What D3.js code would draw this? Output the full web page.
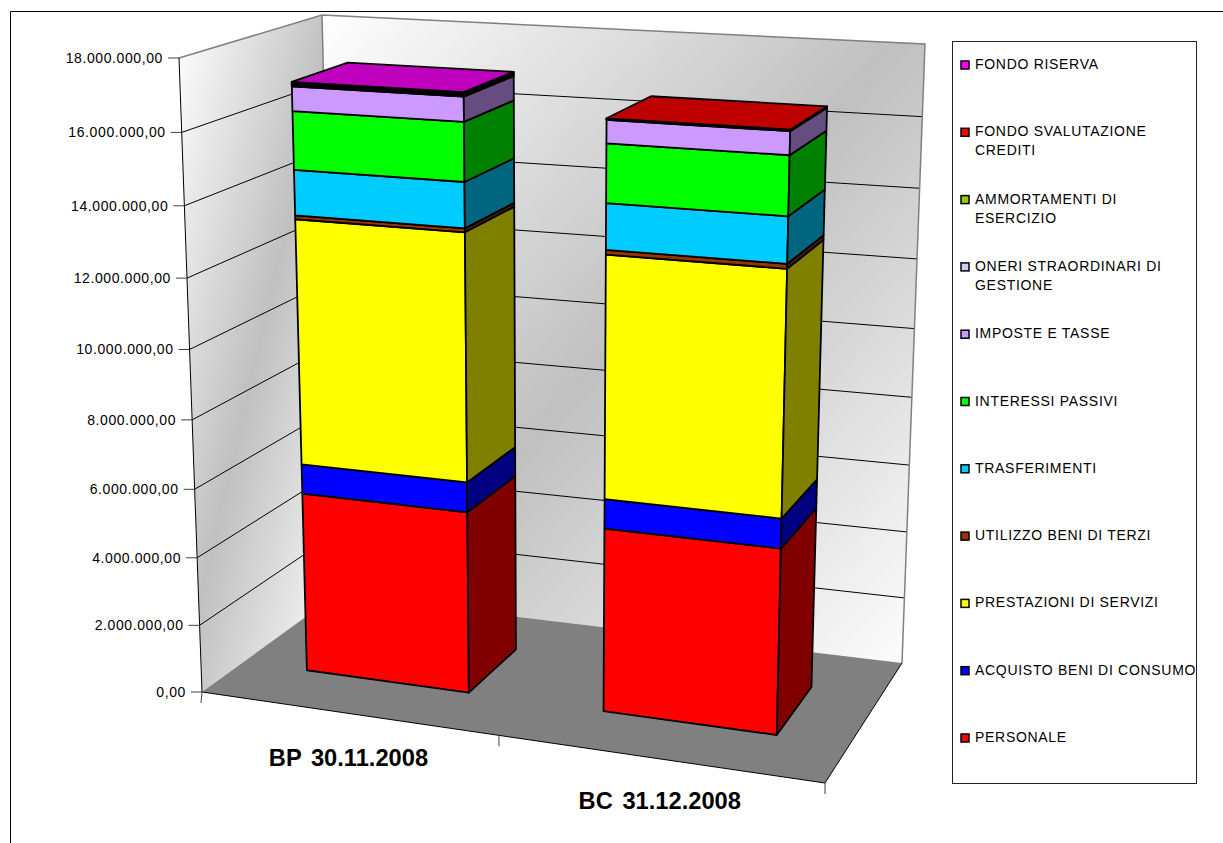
<!DOCTYPE html>
<meta charset="utf-8">
<style>
body { margin: 0; background: #fff; }
text { font-family: "Liberation Sans", Arial, sans-serif; fill: #000; }
.tick-label { font-size: 14px; letter-spacing: 0.6px; }
.legend-label { font-size: 14px; letter-spacing: 0.7px; }
.cat-label { font-size: 23.7px; font-weight: bold; word-spacing: 3px; }
.face { stroke: #000; stroke-width: 1.8px; stroke-linejoin: round; }
.grid { fill: none; stroke: #000; stroke-width: 1px; }
.edge { fill: none; stroke: #808080; stroke-width: 1.5px; }
</style>
<body>
<script src="https://d3js.org/d3.v7.min.js"></script>
<script>

// chart data
var categories = ["BP 30.11.2008", "BC 31.12.2008"];
var yTicks = [0, 2000000, 4000000, 6000000, 8000000, 10000000, 12000000, 14000000, 16000000, 18000000];

// stacking order, bottom to top
var seriesNames = ["PERSONALE", "ACQUISTO BENI DI CONSUMO", "PRESTAZIONI DI SERVIZI", "UTILIZZO BENI DI TERZI",
  "TRASFERIMENTI", "INTERESSI PASSIVI", "IMPOSTE E TASSE", "ONERI STRAORDINARI DI GESTIONE",
  "AMMORTAMENTI DI ESERCIZIO", "FONDO SVALUTAZIONE CREDITI", "FONDO RISERVA"];
var personale = [5340000, 5320000];
var acquisto = [870000, 840000];
var prestazioni = [7060000, 6800000];
var utilizzo = [110000, 130000];
var trasferimenti = [1270000, 1260000];
var interessi = [1630000, 1600000];
var imposte = [680000, 625000];
var oneri = [30000, 10000];
var ammortamenti = [30000, 10000];
var svalutazione = [20000, 20000];
var riserva = [40000, 0];
var seriesValues = [personale, acquisto, prestazioni, utilizzo, trasferimenti, interessi, imposte, oneri, ammortamenti, svalutazione, riserva];
var seriesColors = ["#ff0000", "#0000ff", "#ffff00", "#993300", "#00ccff", "#00ff00", "#cc99ff", "#ccccff", "#99cc00", "#ff0000", "#ff00ff"];

// legend rows, top to bottom, with the line breaks of the picture
var legendRows = [[10, ["FONDO RISERVA"]], [9, ["FONDO SVALUTAZIONE", "CREDITI"]], [8, ["AMMORTAMENTI DI", "ESERCIZIO"]],
  [7, ["ONERI STRAORDINARI DI", "GESTIONE"]], [6, ["IMPOSTE E TASSE"]], [5, ["INTERESSI PASSIVI"]], [4, ["TRASFERIMENTI"]],
  [3, ["UTILIZZO BENI DI TERZI"]], [2, ["PRESTAZIONI DI SERVIZI"]], [1, ["ACQUISTO BENI DI CONSUMO"]], [0, ["PERSONALE"]]];

// corners of the 3d box on screen: floor and the 18M level
var floorCorners = {fl: [202, 692], fr: [825, 783], br: [902, 663], bl: [336, 595]};
var topCorners = {fl: [179, 58], br: [925, 44], bl: [322, 15]};
var depthRange = [0.29, 0.7];
var barSpans = [[0.1165, 0.402], [0.6245, 0.893]];
var heightWarp = 0.94;

var svg = d3.select("body").append("svg")
  .attr("width", 1223)
  .attr("height", 843)
  .style("display", "block");

// perspective: floor and top plane share one denominator
var f = floorCorners;
var dx1 = f.fr[0] - f.br[0], dx2 = f.bl[0] - f.br[0], sx = f.fl[0] - f.fr[0] + f.br[0] - f.bl[0];
var dy1 = f.fr[1] - f.br[1], dy2 = f.bl[1] - f.br[1], sy = f.fl[1] - f.fr[1] + f.br[1] - f.bl[1];
var den = dx1 * dy2 - dx2 * dy1;
var g = (sx * dy2 - dx2 * sy) / den;
var h = (dx1 * sy - sx * dy1) / den;

function planeAxis(p00, p01, p11) {
  var b = p01 * (1 + h) - p00;
  var a = p11 * (1 + g + h) - p00 - b;
  return {a: a, b: b, c: p00};
}
var floorX = planeAxis(f.fl[0], f.bl[0], f.br[0]), floorY = planeAxis(f.fl[1], f.bl[1], f.br[1]);
var topX = planeAxis(topCorners.fl[0], topCorners.bl[0], topCorners.br[0]), topY = planeAxis(topCorners.fl[1], topCorners.bl[1], topCorners.br[1]);

var heightScale = d3.scaleLinear().domain([0, 18000000]).range([0, 1]);
var uScale = d3.scaleOrdinal().domain(categories).range(barSpans);
var uCenter = d3.scaleBand().domain(categories).range([0.01, 1.01]);
var wScale = d3.scaleLinear().domain([0, 1]).range(depthRange);

// u along the categories, w into the depth, v the value
function project(u, w, v) {
  var t = heightScale(v);
  var tw = t * heightWarp / (1 - t + t * heightWarp);
  var d = 1 + g * u + h * w;
  var x0 = (floorX.a * u + floorX.b * w + floorX.c) / d, y0 = (floorY.a * u + floorY.b * w + floorY.c) / d;
  var x1 = (topX.a * u + topX.b * w + topX.c) / d, y1 = (topY.a * u + topY.b * w + topY.c) / d;
  return [x0 + (x1 - x0) * tw, y0 + (y1 - y0) * tw];
}

var line = d3.line();
function quad(pts) { return line(pts) + "Z"; }
function shade(c, k) {
  var r = d3.rgb(c);
  return d3.rgb(r.r * k, r.g * k, r.b * k).formatHex();
}

// wall gradient runs corner to corner, white - grey - white
var grad = svg.append("defs").append("linearGradient").attr("id", "wall")
  .attr("x1", 0).attr("y1", 0).attr("x2", 1).attr("y2", 1);
grad.append("stop").attr("offset", 0).attr("stop-color", "#ffffff");
grad.append("stop").attr("offset", 0.5).attr("stop-color", "#c0c0c0");
grad.append("stop").attr("offset", 1).attr("stop-color", "#ffffff");

// chart area frame
svg.append("path").attr("d", "M10.5,843V11.5H1223").attr("fill", "none").attr("stroke", "#000");

var vMax = 18000000;
svg.append("path").attr("fill", "url(#wall)")
  .attr("d", quad([project(0, 0, 0), project(0, 0, vMax), project(0, 1, vMax), project(0, 1, 0)]));
svg.append("path").attr("fill", "url(#wall)")
  .attr("d", quad([project(0, 1, 0), project(0, 1, vMax), project(1, 1, vMax), project(1, 1, 0)]));

// grid lines along both walls
svg.append("g").selectAll("path").data(yTicks.slice(1, -1)).enter().append("path")
  .attr("class", "grid")
  .attr("d", function(d) { return line([project(0, 0, d), project(0, 1, d), project(1, 1, d)]); });

svg.append("path").attr("class", "edge")
  .attr("d", line([project(0, 0, vMax), project(0, 1, vMax), project(1, 1, vMax), project(1, 1, 0)]));
svg.append("path").attr("class", "edge")
  .attr("d", line([project(0, 1, vMax), project(0, 1, 0)]));

// floor
svg.append("path").attr("fill", "#808080")
  .attr("d", quad([project(0, 0, 0), project(1, 0, 0), project(1, 1, 0), project(0, 1, 0)]));
svg.append("path").attr("class", "grid").attr("stroke-width", 1)
  .attr("d", line([project(0, 0, vMax), project(0, 0, 0), project(1, 0, 0), project(1, 1, 0)]));

// y axis ticks and labels
var itFormat = d3.formatLocale({decimal: ",", thousands: ".", grouping: [3], currency: ["", " €"]}).format(",.2f");
var yAxis = svg.append("g").selectAll("g").data(yTicks).enter().append("g");
yAxis.append("line")
  .attr("x1", function(d) { return project(0, 0, d)[0] - 11; })
  .attr("x2", function(d) { return project(0, 0, d)[0]; })
  .attr("y1", function(d) { return project(0, 0, d)[1]; })
  .attr("y2", function(d) { return project(0, 0, d)[1]; })
  .attr("stroke", "#404040");
yAxis.append("text").attr("class", "tick-label")
  .attr("text-anchor", "end")
  .attr("x", function(d) { return project(0, 0, d)[0] - 16; })
  .attr("y", function(d) { return project(0, 0, d)[1] + 5; })
  .text(function(d) { return itFormat(d); });

// category ticks below the front edge
[0, uCenter.step() + 0.01, 1].forEach(function(u) {
  var p = project(u, 0, 0);
  svg.append("line").attr("x1", p[0]).attr("x2", p[0] - (u === 0 ? 1 : 0)).attr("y1", p[1]).attr("y2", p[1] + 11)
    .attr("stroke", "#404040");
});

// stacked columns
categories.forEach(function(cat, i) {
  var u0 = uScale(cat)[0], u1 = uScale(cat)[1];
  var w0 = wScale(0), w1 = wScale(1);
  var bar = svg.append("g");
  var base = 0;
  var lastSeries = d3.max(seriesValues.map(function(s, k) { return s[i] > 0 ? k : -1; }));
  seriesValues.forEach(function(values, k) {
    var next = base + values[i];
    if (values[i] > 0) {
      bar.append("path").attr("class", "face").attr("fill", seriesColors[k])
        .attr("d", quad([project(u0, w0, base), project(u1, w0, base), project(u1, w0, next), project(u0, w0, next)]));
      bar.append("path").attr("class", "face").attr("fill", shade(seriesColors[k], 0.5))
        .attr("d", quad([project(u1, w0, base), project(u1, w1, base), project(u1, w1, next), project(u1, w0, next)]));
      if (k === lastSeries) {
        bar.append("path").attr("class", "face").attr("fill", shade(seriesColors[k], 0.75))
          .attr("d", quad([project(u0, w0, next), project(u1, w0, next), project(u1, w1, next), project(u0, w1, next)]));
      }
    }
    base = next;
  });
});

// category labels
var labelDy = [52.6, 50];
svg.append("g").selectAll("text").data(categories).enter().append("text")
  .attr("class", "cat-label")
  .attr("text-anchor", "middle")
  .attr("x", function(d) { return project(uCenter(d) + uCenter.bandwidth() / 2, 0, 0)[0]; })
  .attr("y", function(d, i) { return project(uCenter(d) + uCenter.bandwidth() / 2, 0, 0)[1] + labelDy[i]; })
  .text(function(d) { return d; });

// legend
svg.append("rect").attr("x", 952.5).attr("y", 41.5).attr("width", 244).attr("height", 742)
  .attr("fill", "#fff").attr("stroke", "#222");
var legendY = d3.scalePoint().domain(d3.range(legendRows.length)).range([65, 738]);
var rows = svg.append("g").selectAll("g").data(legendRows).enter().append("g")
  .attr("transform", function(d, i) { return "translate(0," + legendY(i) + ")"; });
rows.append("rect")
  .attr("x", 961).attr("y", -4).attr("width", 8).attr("height", 8)
  .attr("fill", function(d) { return seriesColors[d[0]]; })
  .attr("stroke", "#000").attr("stroke-width", 1.5);
rows.each(function(d) {
  var row = d3.select(this);
  d[1].forEach(function(t, j) {
    row.append("text").attr("class", "legend-label")
      .attr("x", 975).attr("y", 4 + j * 19).text(t);
  });
});

</script>
</body>
